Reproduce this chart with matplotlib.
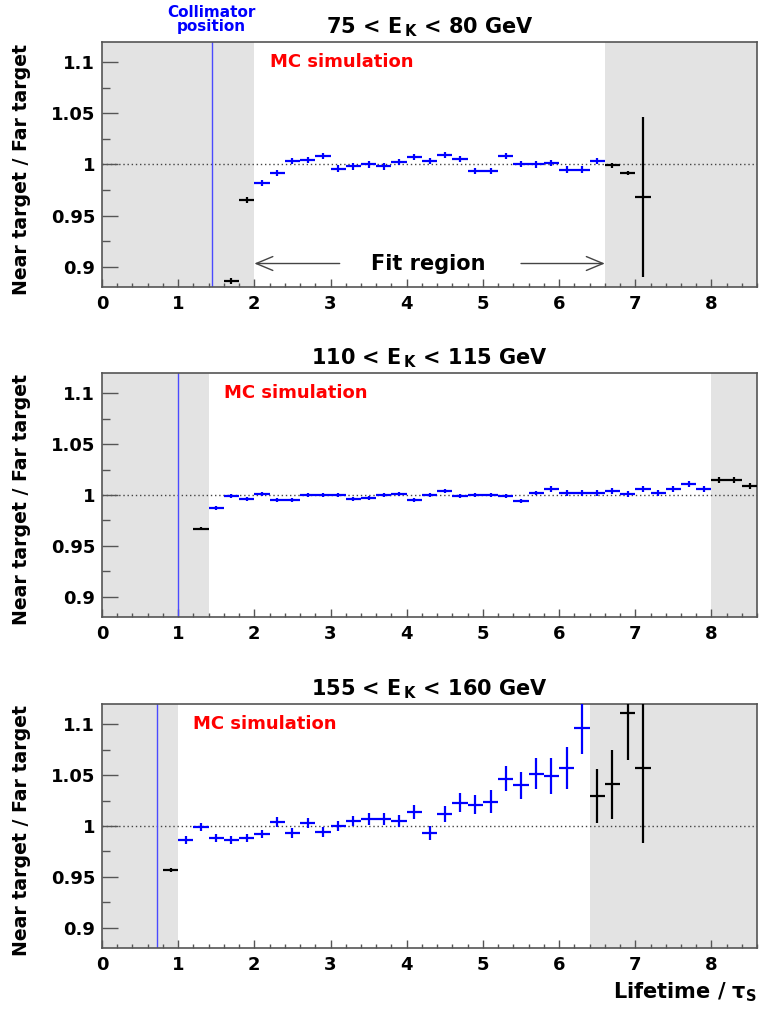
import numpy as np
import matplotlib
matplotlib.use("Agg")
import matplotlib.pyplot as plt
from matplotlib.ticker import MultipleLocator, FixedLocator

plt.rcParams['font.family'] = ['DejaVu Sans']
plt.rcParams['font.weight'] = 'bold'
plt.rcParams['mathtext.fontset'] = 'custom'
plt.rcParams['mathtext.rm'] = 'DejaVu Sans:bold'
plt.rcParams['mathtext.bf'] = 'DejaVu Sans:bold'
plt.rcParams['mathtext.it'] = 'DejaVu Sans:bold'
plt.rcParams['mathtext.default'] = 'regular'

# panel titles
titles = [r"75 < E$_{\rm\,K}$ < 80 GeV",
          r"110 < E$_{\rm\,K}$ < 115 GeV",
          r"155 < E$_{\rm\,K}$ < 160 GeV"]

# fit region (lo, hi) and collimator position per panel
fit_lo = [2.0, 1.4, 1.0]
fit_hi = [6.6, 8.0, 6.4]
collimator = [1.44, 1.0, 0.72]

# bin centres (bin width 0.2)
top_x = [1.7, 1.9, 2.1, 2.3, 2.5, 2.7, 2.9, 3.1, 3.3, 3.5, 3.7, 3.9, 4.1, 4.3,
         4.5, 4.7, 4.9, 5.1, 5.3, 5.5, 5.7, 5.9, 6.1, 6.3, 6.5, 6.7, 6.9, 7.1]
top_y = [0.886, 0.965, 0.982, 0.992, 1.003, 1.004, 1.008, 0.996, 0.998, 1.000,
         0.998, 1.002, 1.007, 1.003, 1.0095, 1.005, 0.994, 0.994, 1.0085, 1.0007,
         1.000, 1.001, 0.995, 0.995, 1.003, 0.999, 0.992, 0.968]
top_err = [0.003, 0.003, 0.003, 0.003, 0.003, 0.003, 0.003, 0.003, 0.003, 0.003,
           0.003, 0.003, 0.003, 0.003, 0.003, 0.003, 0.003, 0.003, 0.003, 0.003,
           0.003, 0.003, 0.003, 0.003, 0.003, 0.002, 0.002, 0.078]

mid_x = [1.3, 1.5, 1.7, 1.9, 2.1, 2.3, 2.5, 2.7, 2.9, 3.1, 3.3, 3.5, 3.7, 3.9,
         4.1, 4.3, 4.5, 4.7, 4.9, 5.1, 5.3, 5.5, 5.7, 5.9, 6.1, 6.3, 6.5, 6.7,
         6.9, 7.1, 7.3, 7.5, 7.7, 7.9, 8.1, 8.3, 8.5]
mid_y = [0.967, 0.987, 0.999, 0.996, 1.001, 0.995, 0.9955, 1.0, 1.0, 1.0,
         0.996, 0.997, 1.0, 1.001, 0.995, 1.0, 1.0036, 0.999, 1.0, 1.0,
         0.9987, 0.9945, 1.002, 1.006, 1.002, 1.002, 1.002, 1.004, 1.001, 1.006,
         1.002, 1.006, 1.011, 1.006, 1.015, 1.015, 1.009]
mid_err = [0.0015, 0.002, 0.002, 0.002, 0.002, 0.002, 0.002, 0.002, 0.002, 0.002,
           0.002, 0.002, 0.002, 0.002, 0.002, 0.002, 0.002, 0.002, 0.002, 0.002,
           0.002, 0.002, 0.002, 0.003, 0.003, 0.003, 0.003, 0.003, 0.003, 0.003,
           0.003, 0.003, 0.003, 0.003, 0.003, 0.003, 0.003]

bot_x = [0.9, 1.1, 1.3, 1.5, 1.7, 1.9, 2.1, 2.3, 2.5, 2.7, 2.9, 3.1, 3.3, 3.5,
         3.7, 3.9, 4.1, 4.3, 4.5, 4.7, 4.9, 5.1, 5.3, 5.5, 5.7, 5.9, 6.1, 6.3,
         6.5, 6.7, 6.9, 7.1]
bot_y = [0.957, 0.986, 0.999, 0.988, 0.986, 0.988, 0.992, 1.004, 0.993, 1.003,
         0.994, 1.0, 1.005, 1.007, 1.007, 1.005, 1.014, 0.993, 1.0115, 1.023,
         1.021, 1.024, 1.0466, 1.040, 1.0515, 1.049, 1.057, 1.096, 1.0295, 1.041,
         1.1115, 1.057]
bot_err = [0.002, 0.004, 0.004, 0.004, 0.004, 0.004, 0.004, 0.005, 0.005, 0.005,
           0.005, 0.005, 0.005, 0.006, 0.006, 0.006, 0.007, 0.007, 0.008, 0.0095,
           0.0095, 0.011, 0.012, 0.013, 0.0155, 0.018, 0.0205, 0.025, 0.027, 0.034,
           0.047, 0.074]

xs = [top_x, mid_x, bot_x]
ys = [top_y, mid_y, bot_y]
errs = [top_err, mid_err, bot_err]

XMAX = 8.6
SHADE = '#e3e3e3'
FRAME = '#555555'

fig = plt.figure(figsize=(7.61, 10.17), dpi=100)
boxes = [[0.134, 0.7178, 0.861, 0.241],
         [0.134, 0.3933, 0.861, 0.240],
         [0.134, 0.0678, 0.861, 0.240]]

for i in range(3):
    ax = fig.add_axes(boxes[i])
    ax.set_xlim(0, XMAX)
    ax.set_ylim(0.88, 1.12)

    ax.axvspan(0, fit_lo[i], color=SHADE, lw=0, zorder=0)
    ax.axvspan(fit_hi[i], XMAX, color=SHADE, lw=0, zorder=0)
    ax.axhline(1.0, color='#444444', lw=1.0, ls=(0, (1, 2)), zorder=1)
    ax.axvline(collimator[i], color='#4a4aff', lw=1.0, zorder=2)

    x = np.array(xs[i])
    y = np.array(ys[i])
    e = np.array(errs[i])
    inside = (x > fit_lo[i]) & (x < fit_hi[i])
    ax.errorbar(x[inside], y[inside], yerr=e[inside], xerr=0.1, fmt='none',
                ecolor='#0000ff', elinewidth=1.6, capsize=0, zorder=3)
    ax.errorbar(x[~inside], y[~inside], yerr=e[~inside], xerr=0.1, fmt='none',
                ecolor='black', elinewidth=1.6, capsize=0, zorder=3)

    ax.text(fit_lo[i] + 0.2, 1.1, "MC simulation", color='#ff0000',
            fontsize=13, fontweight='bold', va='center', ha='left')
    ax.set_title(titles[i], fontsize=15, fontweight='bold', pad=6)
    ax.set_ylabel("Near target / Far target", fontsize=13.6, fontweight='bold')
    ax.yaxis.set_label_coords(-0.108, 0.48)

    ax.xaxis.set_major_locator(MultipleLocator(1))
    ax.xaxis.set_minor_locator(MultipleLocator(0.2))
    ax.yaxis.set_major_locator(FixedLocator([0.9, 0.95, 1.0, 1.05, 1.1]))
    ax.yaxis.set_minor_locator(FixedLocator([0.925, 0.975, 1.025, 1.075]))
    ax.set_yticklabels(["0.9", "0.95", "1", "1.05", "1.1"])
    ax.tick_params(axis='both', which='both', direction='in', top=False,
                   right=False, color=FRAME, labelsize=13)
    ax.tick_params(axis='x', which='major', length=6, width=1, pad=6)
    ax.tick_params(axis='x', which='minor', length=3, width=1)
    ax.tick_params(axis='y', which='major', length=11.5, width=1, pad=5)
    ax.tick_params(axis='y', which='minor', length=5.8, width=1)
    for lab in ax.get_xticklabels() + ax.get_yticklabels():
        lab.set_fontweight('bold')
    for sp in ax.spines.values():
        sp.set_color(FRAME)
        sp.set_linewidth(1.2)

    if i == 0:
        ax.text(collimator[i], 1.142, "Collimator\nposition", color='#0000ff',
                fontsize=11, fontweight='bold', ha='center', va='center',
                linespacing=0.95, clip_on=False)
        ax.text(4.28, 0.903, "Fit region", fontsize=15, fontweight='bold',
                ha='center', va='center')
        ax.annotate("", xy=(fit_lo[i], 0.903), xytext=(3.12, 0.903),
                    arrowprops=dict(arrowstyle='->,head_length=1.2,head_width=0.5',
                                    color='#444444', lw=1.0,
                                    shrinkA=0, shrinkB=0))
        ax.annotate("", xy=(fit_hi[i], 0.903), xytext=(5.5, 0.903),
                    arrowprops=dict(arrowstyle='->,head_length=1.2,head_width=0.5',
                                    color='#444444', lw=1.0,
                                    shrinkA=0, shrinkB=0))
    if i == 2:
        ax.set_xlabel(r"Lifetime / $\tau_{\rm S}$", fontsize=15,
                      fontweight='bold', loc='right', labelpad=4)

fig.savefig("out.png", dpi=100)
